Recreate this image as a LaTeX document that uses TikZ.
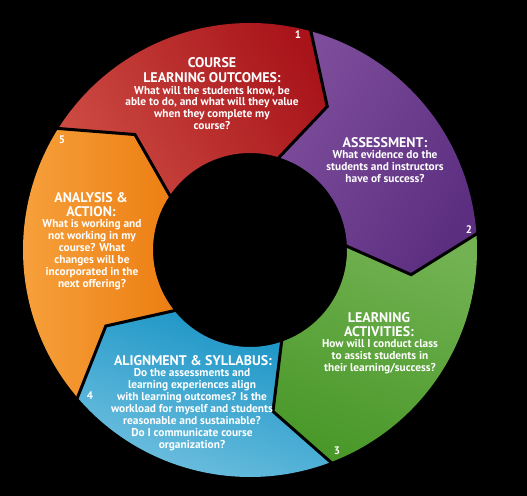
\documentclass[tikz,border=0pt]{standalone}
\usepackage{fontspec}
\setmainfont{PT Sans}
\definecolor{redA}{HTML}{CC4A42}
\definecolor{redB}{HTML}{A8141A}
\definecolor{purA}{HTML}{7E4E9C}
\definecolor{purB}{HTML}{5C2E80}
\definecolor{grnA}{HTML}{72B252}
\definecolor{grnB}{HTML}{4A982A}
\definecolor{bluA}{HTML}{78C4E2}
\definecolor{bluB}{HTML}{1592C4}
\definecolor{orgA}{HTML}{F8A440}
\definecolor{orgB}{HTML}{EC7E12}
\newcommand\segpath[2]{(#1:227bp) arc[start angle=#1, end angle=#2, radius=227bp] -- ({#2-13}:163bp) -- ({#2-1.5}:97bp) arc[start angle={#2-1.5}, end angle={#1-1.5}, radius=97bp] -- ({#1-13}:163bp) -- cycle}
\newcommand\chev[1]{(#1:229bp) -- ({#1-13}:163bp) -- ({#1-1.5}:95bp)}
\tikzset{
  head/.style={text=white, align=center, font=\bfseries\fontsize{14}{14.5}\selectfont, inner sep=0pt},
  body/.style={text=white, align=center, font=\bfseries\fontsize{11.4}{12}\selectfont, inner sep=0pt},
  num/.style={text=white, font=\bfseries\fontsize{11}{12}\selectfont, inner sep=0pt},
  sep/.style={draw=black, line width=3bp, line join=miter}
}
\begin{document}
\begin{tikzpicture}[x=1bp,y=1bp]
\fill[black] (-250,-246) rectangle (277,250);
\useasboundingbox (-250,-246) rectangle (277,250);
% segments
\shade[left color=redA, right color=redB, shading angle=120] \segpath{147.9}{74.7};
\shade[left color=purA, right color=purB, shading angle=60] \segpath{74.7}{4.3};
\shade[left color=grnA, right color=grnB, shading angle=-20] \segpath{4.3}{-68.9};
\shade[left color=bluA, right color=bluB, shading angle=160] \segpath{-68.9}{-139.2};
\shade[left color=orgA, right color=orgB, shading angle=90] \segpath{-139.2}{-212.1};
% separators
\draw[sep] \chev{74.7};
\draw[sep] \chev{4.3};
\draw[sep] \chev{-68.9};
\draw[sep] \chev{-139.2};
\draw[sep] \chev{147.9};
% texts
\node[head] (h1) at (-38,180) {COURSE\\LEARNING OUTCOMES:};
\node[body] (b1) at (-38,142) {What will the students know, be\\able to do, and what will they value\\when they complete my\\course?};
\node[head] (h2) at (135,107) {ASSESSMENT:};
\node[body] (b2) at (135,83) {What evidence do the\\students and instructors\\have of success?};
\node[head] (h3) at (129,-74.5) {LEARNING\\ACTIVITIES:};
\node[body] (b3) at (130,-107) {How will I conduct class\\to assist students in\\their learning/success?};
\node[head] (h4) at (-57,-111) {ALIGNMENT \& SYLLABUS:};
\node[body] (b4) at (-58,-160) {Do the assessments and\\learning experiences align\\with learning outcomes? Is the\\workload for myself and students\\reasonable and sustainable?\\Do I communicate course\\organization?};
\node[head] (h5) at (-159,45.5) {ANALYSIS \&\\ACTION:};
\node[body] (b5) at (-158,-5) {What is working and\\not working in my\\course? What\\changes will be\\incorporated in the\\next offering?};
% numbers
\node[num] (n1) at (48,215) {1};
\node[num] (n2) at (219,20) {2};
\node[num] (n3) at (87,-201) {3};
\node[num] (n4) at (-160,-146) {4};
\node[num] (n5) at (-188,110) {5};
\end{tikzpicture}
\end{document}
